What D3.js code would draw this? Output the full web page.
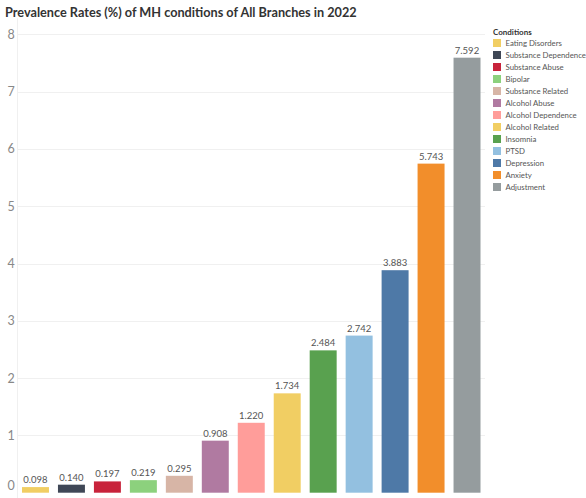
<!DOCTYPE html>
<html>
<head>
<meta charset="utf-8">
<script src="https://cdn.jsdelivr.net/npm/d3@7"></script>
<style>
  body { margin: 0; background: #fff; }
  svg { display: block; }
</style>
</head>
<body>
<div id="chart"></div>
<script>
// data
var condiciones = ["Eating Disorders", "Substance Dependence", "Substance Abuse", "Bipolar",
  "Substance Related", "Alcohol Abuse", "Alcohol Dependence", "Alcohol Related",
  "Insomnia", "PTSD", "Depression", "Anxiety", "Adjustment"];
var valores = [0.098, 0.140, 0.197, 0.219, 0.295, 0.908, 1.220, 1.734, 2.484, 2.742, 3.883, 5.743, 7.592];
var colores = ["#f1ce63", "#3f4756", "#c8233b", "#8cd17d", "#d7b5a6", "#b07aa1", "#ff9d9a",
  "#f1ce63", "#59a14f", "#93c0e0", "#4e79a7", "#f28e2b", "#959c9e"];
var ticksY = [0, 1, 2, 3, 4, 5, 6, 7, 8];

var ancho = 586, alto = 498;
var izq = 17.5, der = 485, arriba = 34.3, abajo = 492.7;
var fuente = "Lato";

var svg = d3.select("#chart").append("svg")
  .attr("width", ancho)
  .attr("height", alto);

svg.append("text")
  .attr("x", 5)
  .attr("y", 17)
  .attr("font-family", fuente)
  .attr("font-weight", 700)
  .attr("font-size", "12.7px")
  .attr("fill", "#333")
  .text("Prevalence Rates (%) of MH conditions of All Branches in 2022");

var escalaX = d3.scaleBand()
  .domain(condiciones)
  .range([izq, der])
  .paddingInner(0.25)
  .paddingOuter(0.125);

var escalaY = d3.scaleLinear()
  .domain([0, 8])
  .range([abajo, arriba]);

// grid lines
svg.append("g").selectAll("line")
  .data(ticksY.filter(function (d) { return d > 0; }))
  .enter().append("line")
  .attr("x1", izq).attr("x2", der)
  .attr("y1", function (d) { return Math.round(escalaY(d)) + 0.5; })
  .attr("y2", function (d) { return Math.round(escalaY(d)) + 0.5; })
  .attr("stroke", "#f0f0f0");

svg.append("line")
  .attr("x1", izq).attr("x2", izq)
  .attr("y1", arriba - 16).attr("y2", alto)
  .attr("stroke", "#f0f0f0");

// y labels
svg.append("g").selectAll("text")
  .data(ticksY)
  .enter().append("text")
  .attr("x", 11)
  .attr("y", function (d) { return d === 0 ? 490 : escalaY(d) + 4.5; })
  .attr("text-anchor", "middle")
  .attr("font-family", fuente)
  .attr("font-size", "12.5px")
  .attr("fill", "#888")
  .text(function (d) { return d; });

// bars
svg.append("g").selectAll("rect")
  .data(valores)
  .enter().append("rect")
  .attr("x", function (d, i) { return escalaX(condiciones[i]); })
  .attr("y", function (d) { return escalaY(d); })
  .attr("width", escalaX.bandwidth())
  .attr("height", function (d) { return abajo - escalaY(d); })
  .attr("fill", function (d, i) { return colores[i]; });

// value labels
svg.append("g").selectAll("text")
  .data(valores)
  .enter().append("text")
  .attr("x", function (d, i) { return escalaX(condiciones[i]) + escalaX.bandwidth() / 2; })
  .attr("y", function (d) { return escalaY(d) - 4; })
  .attr("text-anchor", "middle")
  .attr("font-family", fuente)
  .attr("font-size", "9.5px")
  .attr("fill", "#555")
  .text(function (d) { return d.toFixed(3); });

// legend
var leyenda = svg.append("g").attr("transform", "translate(493,0)");
leyenda.append("text")
  .attr("x", 0).attr("y", 35)
  .attr("font-family", fuente)
  .attr("font-weight", 700)
  .attr("font-size", "8px")
  .attr("fill", "#333")
  .text("Conditions");

var items = leyenda.selectAll("g.item")
  .data(condiciones)
  .enter().append("g")
  .attr("class", "item")
  .attr("transform", function (d, i) { return "translate(0," + (39 + i * 12) + ")"; });
items.append("rect")
  .attr("width", 8).attr("height", 8)
  .attr("fill", function (d, i) { return colores[i]; });
items.append("text")
  .attr("x", 12.5).attr("y", 7)
  .attr("font-family", fuente)
  .attr("font-size", "7.8px")
  .attr("fill", "#555")
  .text(function (d) { return d; });
</script>
</body>
</html>
